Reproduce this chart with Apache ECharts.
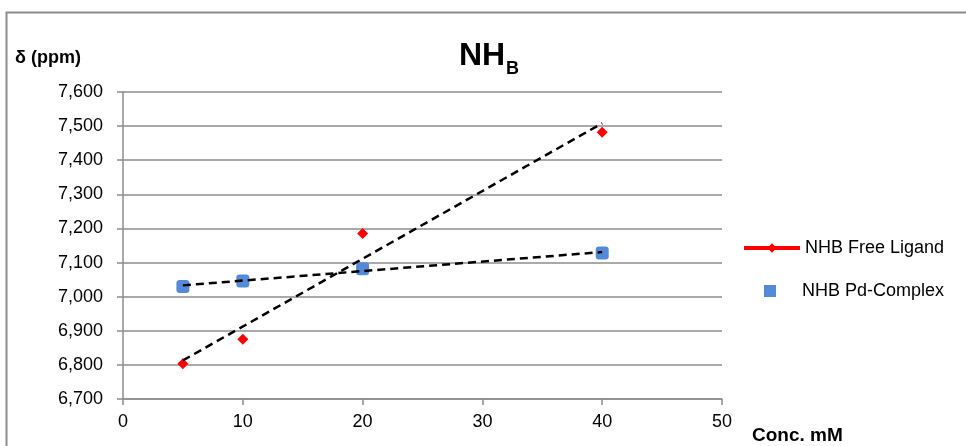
<!DOCTYPE html>
<html>
<head>
<meta charset="utf-8">
<script src="https://cdn.jsdelivr.net/npm/echarts@6/dist/echarts.min.js"></script>
<style>html,body{margin:0;padding:0;background:#fff}#c{width:966px;height:446px}</style>
</head>
<body>
<div id="c"></div>
<script>
// Data
const concentrations = [5, 10, 20, 40];
const freeLigand = [6.803, 6.875, 7.185, 7.482];
const pdComplex = [7.030, 7.046, 7.082, 7.128];
const xTicks = [0, 10, 20, 30, 40, 50];
const yTicks = [6.7, 6.8, 6.9, 7.0, 7.1, 7.2, 7.3, 7.4, 7.5, 7.6];
const seriesNames = ['NHB Free Ligand', 'NHB Pd-Complex'];

// Linear (least squares) trendline, as Excel draws it
function trend(xs, ys) {
  const n = xs.length;
  const mx = xs.reduce((a, b) => a + b, 0) / n;
  const my = ys.reduce((a, b) => a + b, 0) / n;
  let sxy = 0, sxx = 0;
  for (let i = 0; i < n; i++) { sxy += (xs[i] - mx) * (ys[i] - my); sxx += (xs[i] - mx) ** 2; }
  const k = sxy / sxx, b = my - k * mx;
  const x0 = Math.min(...xs), x1 = Math.max(...xs);
  return [[x0, k * x0 + b], [x1, k * x1 + b]];
}

const FONT = 'Liberation Sans';
const GRID = '#8c8c8c';
const chart = echarts.init(document.getElementById('c'));
chart.setOption({
  animation: false,
  textStyle: { fontFamily: FONT },
  grid: { left: 123, right: 244, top: 92, bottom: 47 },
  graphic: [
    { type: 'rect', left: 4, top: 10, shape: { width: 1000, height: 500 }, style: { fill: 'none', stroke: '#8c8c8c', lineWidth: 2 }, silent: true },
    { type: 'text', left: 459, top: 40, style: { text: 'NH', font: 'bold 32px "Liberation Sans"', fill: '#000' } },
    { type: 'text', left: 506, top: 60, style: { text: 'B', font: 'bold 18px "Liberation Sans"', fill: '#000' } },
    { type: 'text', left: 15, top: 49, style: { text: 'δ (ppm)', font: 'bold 18px "Liberation Sans"', fill: '#000' } },
    { type: 'text', left: 752, top: 426, style: { text: 'Conc. mM', font: 'bold 19px "Liberation Sans"', fill: '#000' } }
  ],
  legend: [
    {
      left: 737, top: 234, itemWidth: 56, itemHeight: 12,
      data: [{ name: seriesNames[0], lineStyle: { color: '#ff0000', width: 4, opacity: 1 } }],
      textStyle: { fontSize: 18, color: '#000', fontFamily: FONT }
    },
    {
      left: 759, top: 277, itemWidth: 12, itemHeight: 12,
      data: [{ name: seriesNames[1], icon: 'rect' }],
      textStyle: { fontSize: 18, color: '#000', fontFamily: FONT, padding: [0, 0, 0, 21] }
    }
  ],
  xAxis: {
    type: 'value', min: xTicks[0], max: xTicks[xTicks.length - 1], interval: 10,
    axisLine: { show: true, lineStyle: { color: GRID, width: 1.5 } },
    axisTick: { show: true, length: 6, lineStyle: { color: GRID, width: 1.5 } },
    axisLabel: { fontSize: 18, color: '#000', margin: 14, fontFamily: FONT },
    splitLine: { show: false }
  },
  yAxis: {
    type: 'value', min: yTicks[0], max: yTicks[yTicks.length - 1], interval: 0.1,
    axisLine: { show: true, lineStyle: { color: GRID, width: 1.5 } },
    axisTick: { show: true, length: 6, lineStyle: { color: GRID, width: 1.5 } },
    axisLabel: { fontSize: 18, color: '#000', margin: 20, fontFamily: FONT,
      formatter: v => v.toFixed(3).replace('.', ',') },
    splitLine: { show: true, lineStyle: { color: GRID, width: 1.5 } }
  },
  series: [
    {
      name: seriesNames[0], type: 'line',
      data: concentrations.map((x, i) => [x, freeLigand[i]]),
      symbol: 'diamond', symbolSize: 11,
      itemStyle: { color: '#ff0000' },
      lineStyle: { color: '#ff0000', width: 4, opacity: 0 },
      z: 3
    },
    {
      name: seriesNames[1], type: 'scatter',
      data: concentrations.map((x, i) => [x, pdComplex[i]]),
      symbol: 'roundRect', symbolSize: 13,
      itemStyle: { color: '#558ad8', opacity: 1 },
      z: 3
    },
    {
      name: 'trend1', type: 'line', data: trend(concentrations, freeLigand),
      symbol: 'none', lineStyle: { color: '#000', width: 2.5, type: [8, 5] }, z: 4
    },
    {
      name: 'trend2', type: 'line', data: trend(concentrations, pdComplex),
      symbol: 'none', lineStyle: { color: '#000', width: 2.5, type: [8, 5] }, z: 4
    }
  ]
});
</script>
</body>
</html>
